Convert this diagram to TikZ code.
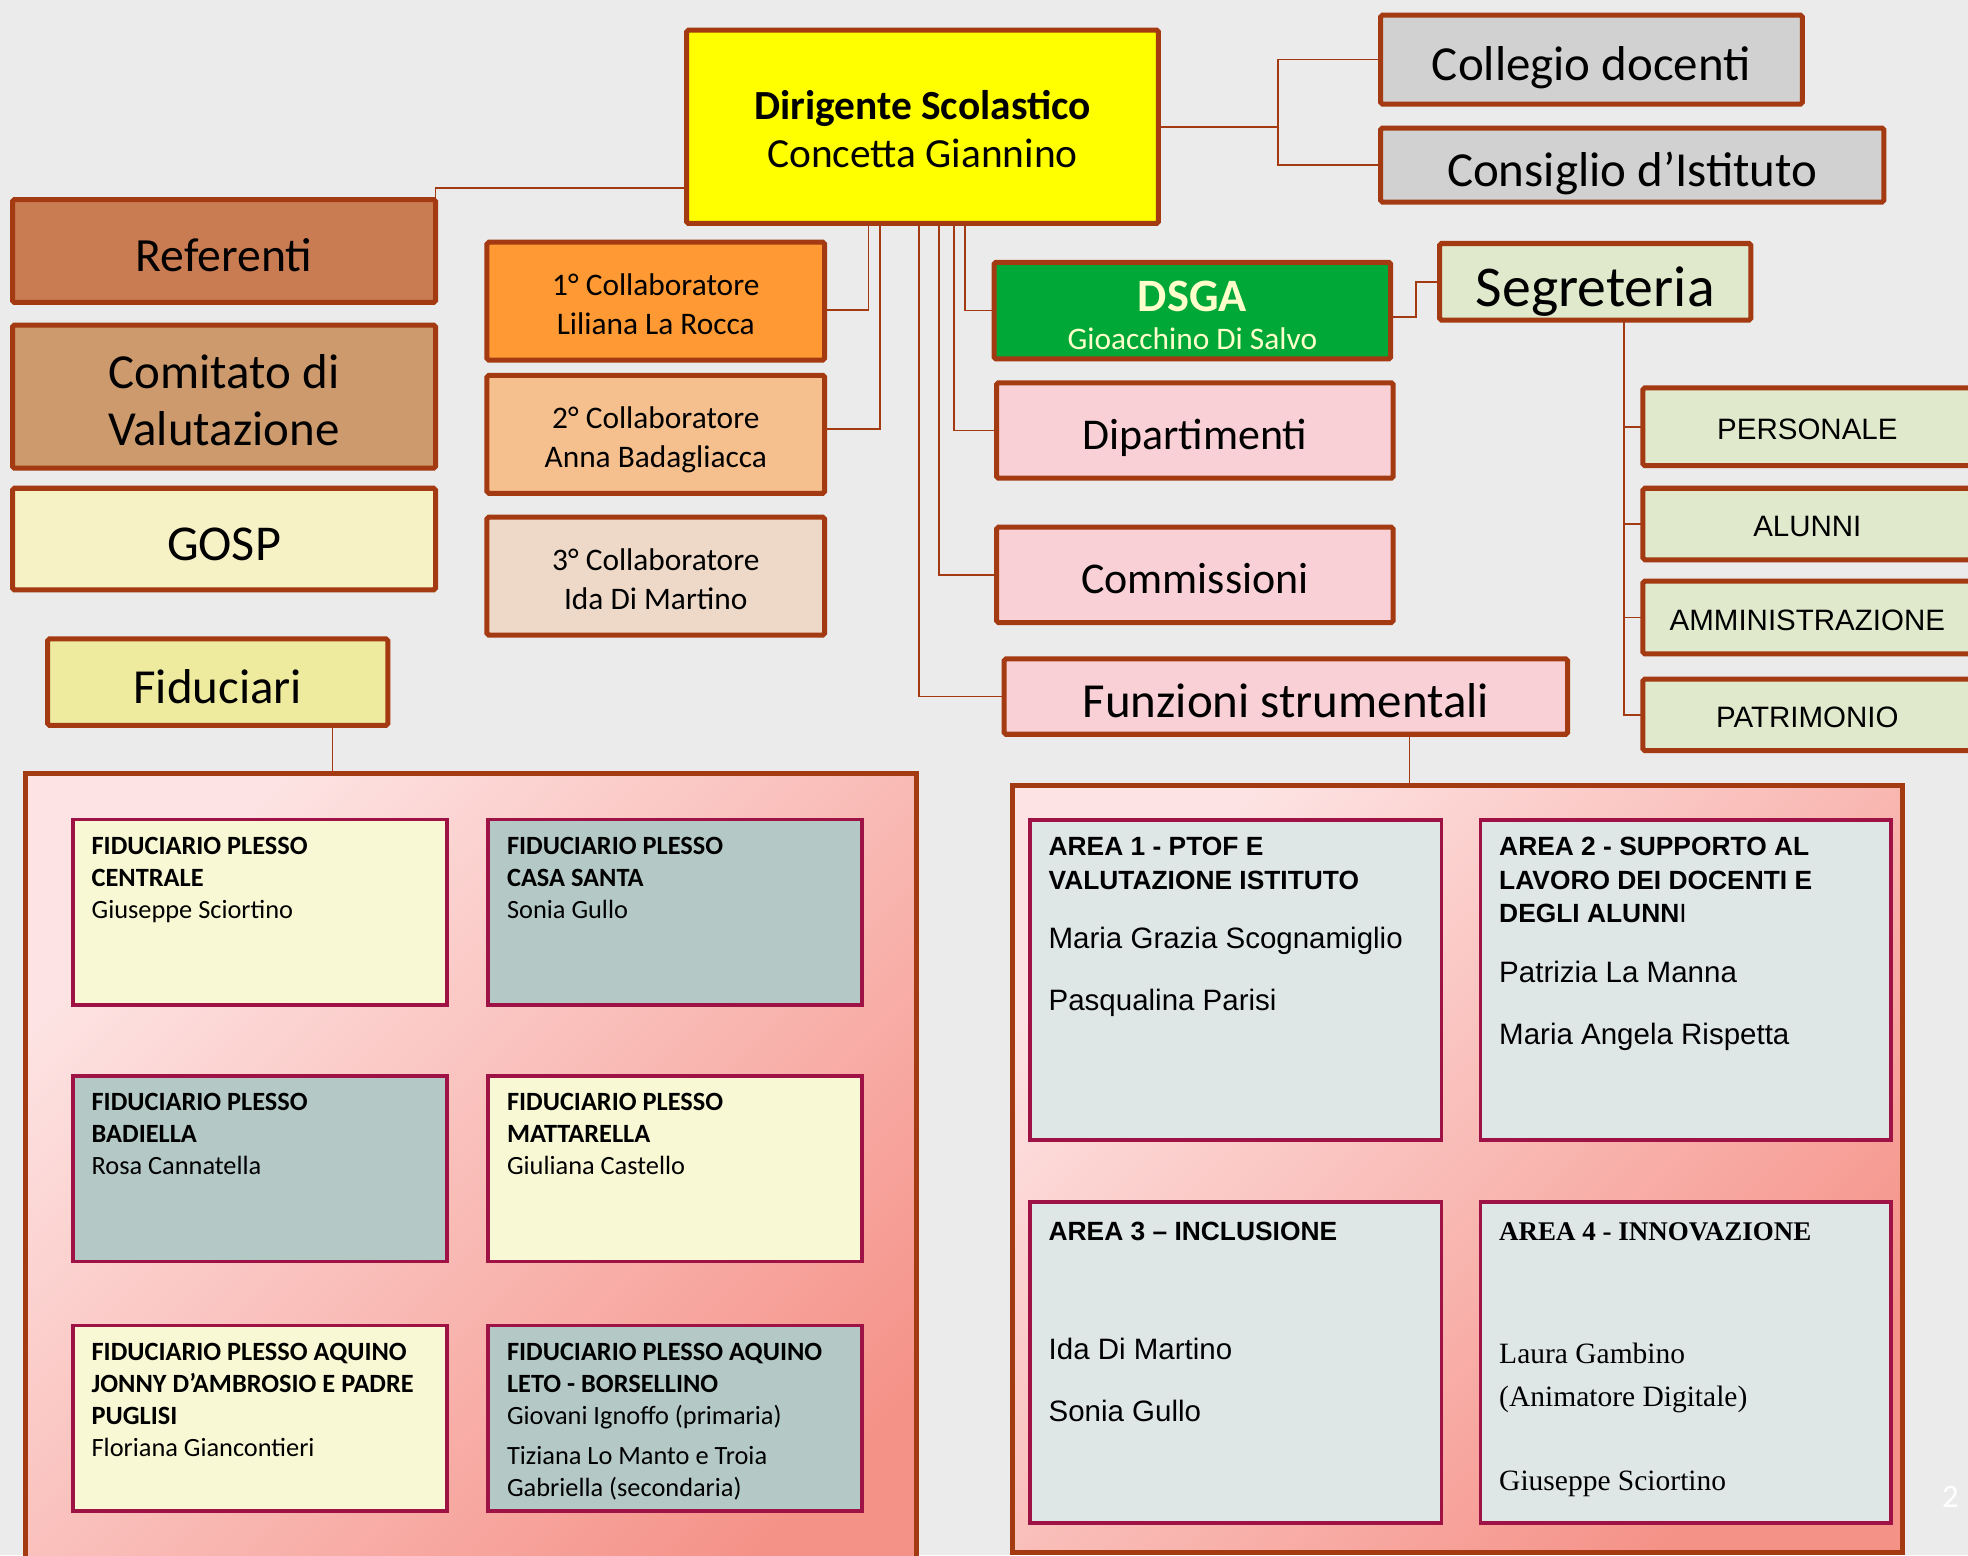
\documentclass[tikz,border=0pt]{standalone}
\usepackage{fontspec}
\setmainfont{Carlito}
\newfontfamily\arialf{Liberation Sans}
\newfontfamily\tnrf{Liberation Serif}
\usetikzlibrary{calc}
\definecolor{bg}{HTML}{EBEBEB}
\definecolor{brd}{HTML}{A43A12}
\definecolor{yel}{HTML}{FFFF00}
\definecolor{greyc}{HTML}{D1D1D1}
\definecolor{refc}{HTML}{C97B52}
\definecolor{comc}{HTML}{CC9A6C}
\definecolor{gospc}{HTML}{F7F2C6}
\definecolor{fidc}{HTML}{EEEA9E}
\definecolor{cA}{HTML}{FF9933}
\definecolor{cB}{HTML}{F5C08E}
\definecolor{cC}{HTML}{EED9C8}
\definecolor{dsgac}{HTML}{00A838}
\definecolor{dsgat}{HTML}{FFFFCC}
\definecolor{segc}{HTML}{E0E9CB}
\definecolor{pinkc}{HTML}{F8D0D6}
\definecolor{iyel}{HTML}{F8F8D4}
\definecolor{iteal}{HTML}{B4C9C5}
\definecolor{areac}{HTML}{DFE6E6}
\definecolor{ibrd}{HTML}{9E1246}
\definecolor{pkA}{HTML}{FDE3E3}
\definecolor{pkB}{HTML}{F59288}
\newcommand\fsz[2]{\fontsize{#1}{#2}\selectfont}
\newcommand\inbox[4]{\parbox[c][#2][t]{#1}{\raggedright\leftskip=15pt\relax\vspace*{#3}\rule{0pt}{20pt}#4\par}}
\newcommand\dn[2]{\raisebox{-#1}[\height][\depth]{\begin{tabular}{@{}c@{}}#2\end{tabular}}}
\tikzset{
  box/.style={draw=brd, line width=4pt, rounded corners=1.5pt, inner sep=0pt, outer sep=0pt, align=center, text=black, text depth=0pt, execute at begin node={\rule{0pt}{0.86em}}},
  mbox/.style={draw=brd, line width=4pt, rounded corners=1.5pt, inner sep=0pt, outer sep=0pt, text=black},
  conn/.style={draw=brd, line width=1.3pt},
  ibox/.style={draw=ibrd, line width=3pt, inner sep=0pt, outer sep=0pt, anchor=north west},
  bigbox/.style={draw=brd, line width=4pt, inner sep=0pt, outer sep=0pt, anchor=north west, top color=pkA, bottom color=pkB, shading angle=45},
  subbox/.style={box, fill=segc, font={\arialf\fsz{23.5}{28}}},
}
\begin{document}
\begin{tikzpicture}[x=1pt,y=-1pt]
\useasboundingbox (0,0) rectangle (1568,1239);
\clip (0,0) rectangle (1568,1239);
\fill[bg] (0,0) rectangle (1568,1239);

% top
\node[mbox, fill=yel, minimum width=376, minimum height=154, font={\fsz{33}{38}}] (dir) at (735,101) {\dn{6pt}{\textbf{Dirigente Scolastico}\\Concetta Giannino}};
\node[box, fill=greyc, minimum width=336, minimum height=71, font={\fsz{39}{46}}] (coll) at (1268,47.5) {Collegio docenti};
\node[box, fill=greyc, minimum width=401, minimum height=59, font={\fsz{39}{46}}] (cons) at (1300.5,131.5) {Consiglio d’Istituto};

% left column
\node[box, fill=refc, minimum width=337, minimum height=82, font={\fsz{38}{46}}] (ref) at (178.5,200) {Referenti};
\node[mbox, fill=comc, minimum width=337, minimum height=114, font={\fsz{39}{46}}] (com) at (178.5,316) {\dn{7pt}{Comitato di\\Valutazione}};
\node[box, fill=gospc, minimum width=337, minimum height=81, font={\fsz{40}{46}}] (gosp) at (178.5,429.5) {GOSP};
\node[box, fill=fidc, minimum width=271, minimum height=69, font={\fsz{39}{46}}] (fid) at (173.5,543.5) {Fiduciari};

% collaboratori
\node[mbox, fill=cA, minimum width=269, minimum height=94, font={\fsz{25}{31}}] (c1) at (522.5,240) {\dn{5pt}{1° Collaboratore\\Liliana La Rocca}};
\node[mbox, fill=cB, minimum width=269, minimum height=94, font={\fsz{25}{31}}] (c2) at (522.5,346) {\dn{5pt}{2° Collaboratore\\Anna Badagliacca}};
\node[mbox, fill=cC, minimum width=269, minimum height=94, font={\fsz{25}{31}}] (c3) at (522.5,459) {\dn{5pt}{3° Collaboratore\\Ida Di Martino}};

% middle column
\node[mbox, fill=dsgac, text=dsgat, minimum width=316, minimum height=77, font={\fsz{37}{30}}] (dsga) at (950,247.5) {\dn{8pt}{\textbf{DSGA}\\{\fsz{25}{30}Gioacchino Di Salvo}}};
\node[box, fill=segc, minimum width=248, minimum height=61, font={\fsz{46}{50}}] (seg) at (1271,224.5) {Segreteria};
\node[box, fill=pinkc, minimum width=316, minimum height=76, font={\fsz{35}{40}}] (dip) at (952,343) {Dipartimenti};
\node[box, fill=pinkc, minimum width=316, minimum height=76, font={\fsz{35}{40}}] (comm) at (952,458) {Commissioni};
\node[box, fill=pinkc, minimum width=449, minimum height=60, font={\fsz{39}{46}}] (fun) at (1024.5,555) {Funzioni strumentali};

% segreteria offices
\node[subbox, minimum width=262, minimum height=62] (pers) at (1440,340) {PERSONALE};
\node[subbox, minimum width=262, minimum height=57] (alu) at (1440,417.5) {ALUNNI};
\node[subbox, minimum width=262, minimum height=58] (amm) at (1440,492) {AMMINISTRAZIONE};
\node[subbox, minimum width=262, minimum height=57] (patr) at (1440,569.5) {PATRIMONIO};

% big containers
\node[bigbox, minimum width=710, minimum height=700] (lbox) at (20,616) {};
\node[bigbox, minimum width=709, minimum height=611] (rbox) at (807,626) {};

% fiduciari plessi
\node[ibox, fill=iyel] (f1) at (58,653) {\inbox{298pt}{148pt}{8pt}{\fsz{21}{25.5}\textbf{FIDUCIARIO PLESSO\\CENTRALE}\\Giuseppe Sciortino}};
\node[ibox, fill=iteal] (f2) at (389,653) {\inbox{298pt}{148pt}{8pt}{\fsz{21}{25.5}\textbf{FIDUCIARIO PLESSO\\CASA SANTA}\\Sonia Gullo}};
\node[ibox, fill=iteal] (f3) at (58,857) {\inbox{298pt}{148pt}{8pt}{\fsz{21}{25.5}\textbf{FIDUCIARIO PLESSO\\BADIELLA}\\Rosa Cannatella}};
\node[ibox, fill=iyel] (f4) at (389,857) {\inbox{298pt}{148pt}{8pt}{\fsz{21}{25.5}\textbf{FIDUCIARIO PLESSO\\MATTARELLA}\\Giuliana Castello}};
\node[ibox, fill=iyel] (f5) at (58,1056) {\inbox{298pt}{148pt}{8pt}{\fsz{21}{25.5}\textbf{FIDUCIARIO PLESSO AQUINO\\JONNY D’AMBROSIO E PADRE\\PUGLISI}\\Floriana Giancontieri}};
\node[ibox, fill=iteal] (f6) at (389,1056) {\inbox{298pt}{148pt}{8pt}{\fsz{21}{25.5}\textbf{FIDUCIARIO PLESSO AQUINO\\LETO - BORSELLINO}\\Giovani Ignoffo (primaria)\\[6pt]Tiziana Lo Manto e Troia\\Gabriella (secondaria)}};

% aree funzioni strumentali
\node[ibox, fill=areac] (a1) at (820.5,653.5) {\inbox{328pt}{255pt}{8.5pt}{\arialf\fsz{23.5}{26.5}{\fsz{21}{26.5}\bfseries AREA 1 - PTOF E\\VALUTAZIONE ISTITUTO}\\[21pt]Maria Grazia Scognamiglio\\[22.5pt]Pasqualina Parisi}};
\node[ibox, fill=areac] (a2) at (1179.5,653.5) {\inbox{327pt}{255pt}{8.5pt}{\arialf\fsz{23.5}{26.5}{\fsz{21}{26.5}\bfseries AREA 2 - SUPPORTO AL\\LAVORO DEI DOCENTI E\\DEGLI ALUNN\mdseries I}\\[21pt]Patrizia La Manna\\[23.5pt]Maria Angela Rispetta}};
\node[ibox, fill=areac] (a3) at (820.5,957.5) {\inbox{328pt}{256pt}{10.5pt}{\arialf\fsz{23.5}{26.5}{\fsz{21}{26.5}\bfseries AREA 3 – INCLUSIONE}\\[69pt]Ida Di Martino\\[22.5pt]Sonia Gullo}};
\node[ibox, fill=areac] (a4) at (1179.5,957.5) {\inbox{327pt}{256pt}{10.5pt}{\tnrf\fsz{23.5}{26.5}{\fsz{21.5}{26.5}\bfseries AREA 4 - INNOVAZIONE}\\[72pt]Laura Gambino\\[8pt](Animatore Digitale)\\[40pt]Giuseppe Sciortino}};

\node[text=white, font={\fsz{26}{30}}, anchor=base, inner sep=0pt] (pg) at (1554,1201) {2};

% connectors
\draw[conn] (dir.east) -- ++(95,0) coordinate (dj);
\draw[conn] (coll.west) -| (dj) |- (cons.west);
\draw[conn] (ref.north east) |- ([yshift=28pt]dir.south west);
\draw[conn] ([xshift=145pt]dir.south west) |- ([yshift=-7pt]c1.east);
\draw[conn] ([xshift=154pt]dir.south west) |- ([yshift=4pt]c2.east);
\draw[conn] ([xshift=185pt]dir.south west) |- (fun.west);
\draw[conn] ([xshift=201pt]dir.south west) |- (comm.west);
\draw[conn] ([xshift=213pt]dir.south west) |- (dip.west);
\draw[conn] ([xshift=222pt]dir.south west) |- (dsga.west);
\draw[conn] ([yshift=-5pt]dsga.east) -- ++(20,0) |- (seg.west);
\coordinate (sj) at ([xshift=147pt]seg.south west);
\draw[conn] (sj) |- (pers.west);
\draw[conn] (sj) |- (alu.west);
\draw[conn] (sj) |- (amm.west);
\draw[conn] (sj) |- (patr.west);
\coordinate (fj) at ([xshift=227pt]fid.south west);
\draw[conn] (fj) -- (fj |- lbox.north);
\coordinate (uj) at ([xshift=323pt]fun.south west);
\draw[conn] (uj) -- (uj |- rbox.north);
\end{tikzpicture}
\end{document}
